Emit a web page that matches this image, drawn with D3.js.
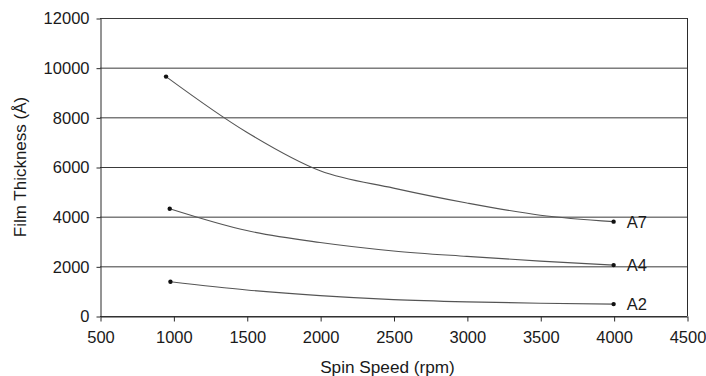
<!DOCTYPE html>
<html><head><meta charset="utf-8">
<script src="https://cdn.jsdelivr.net/npm/d3@7"></script>
<style>
html,body{margin:0;padding:0;background:#fff;}
svg{display:block;font-family:"Liberation Sans",Arial,sans-serif;}
</style></head>
<body><svg id="c" width="706" height="376"></svg>
<script>
// Data
const seriesNames = ["A7", "A4", "A2"];
const speedsA7 = [950, 1500, 2000, 2500, 3000, 3500, 4000];
const thickA7  = [9640, 7400, 5850, 5150, 4550, 4060, 3800];
const speedsA4 = [975, 1500, 2000, 2500, 3000, 3500, 4000];
const thickA4  = [4320, 3440, 2960, 2620, 2400, 2210, 2050];
const speedsA2 = [980, 1500, 2000, 2500, 3000, 3500, 4000];
const thickA2  = [1380, 1050, 820, 660, 570, 515, 480];
const xTicks = [500, 1000, 1500, 2000, 2500, 3000, 3500, 4000, 4500];
const yTicks = [0, 2000, 4000, 6000, 8000, 10000, 12000];
const xTitle = "Spin Speed (rpm)";
const yTitle = "Film Thickness (Å)";

const series = [
  {name: seriesNames[0], xs: speedsA7, ys: thickA7},
  {name: seriesNames[1], xs: speedsA4, ys: thickA4},
  {name: seriesNames[2], xs: speedsA2, ys: thickA2}
];

const svg = d3.select("#c");
const L = 100, R = 687, T = 18, B = 316;
const x = d3.scaleLinear().domain([500, 4500]).range([L, R]);
const y = d3.scaleLinear().domain([0, 12000]).range([B, T]);
const ink = "#2b2b2b";

// gridlines
svg.append("g").selectAll("line").data(yTicks).join("line")
  .attr("x1", L).attr("x2", R)
  .attr("y1", d => y(d) + 0.5).attr("y2", d => y(d) + 0.5)
  .attr("stroke", "#3a3a3a").attr("stroke-width", 1);

// right border
svg.append("line").attr("x1", R + 0.5).attr("x2", R + 0.5)
  .attr("y1", T).attr("y2", B).attr("stroke", ink);

// y axis
const ya = svg.append("g").attr("transform", `translate(${L + 0.5},0.5)`)
  .call(d3.axisLeft(y).tickValues(yTicks).tickSize(4).tickSizeOuter(0).tickPadding(7).tickFormat(d3.format("d")));
// x axis
const xa = svg.append("g").attr("transform", `translate(0.5,${B + 0.5})`)
  .call(d3.axisBottom(x).tickValues(xTicks).tickSize(5).tickSizeOuter(0).tickPadding(10).tickFormat(d3.format("d")));
[ya, xa].forEach(a => {
  a.selectAll("path,line").attr("stroke", ink);
  a.selectAll("text").attr("fill", "#1a1a1a").style("font-size", "16.5px");
});

// curves
const line = d3.line().x(d => x(d[0])).y(d => y(d[1])).curve(d3.curveMonotoneX);
series.forEach(s => {
  const pts = s.xs.map((v, i) => [v, s.ys[i]]);
  svg.append("path").attr("d", line(pts)).attr("fill", "none")
    .attr("stroke", "#555").attr("stroke-width", 1.1);
  const ends = [pts[0], pts[pts.length - 1]];
  svg.append("g").selectAll("circle").data(ends).join("circle")
    .attr("cx", d => x(d[0])).attr("cy", d => y(d[1])).attr("r", 2.2).attr("fill", "#111");
  const last = pts[pts.length - 1];
  svg.append("text").attr("x", x(last[0]) + 13).attr("y", y(last[1]))
    .attr("dy", "0.36em").attr("fill", "#1a1a1a").style("font-size", "16.5px").text(s.name);
});

// titles
svg.append("text").attr("x", (L + R) / 2 - 6).attr("y", 373).attr("text-anchor", "middle")
  .attr("fill", "#1a1a1a").style("font-size", "17.2px").text(xTitle);
svg.append("text").attr("transform", `translate(26,${(T + B) / 2}) rotate(-90)`)
  .attr("text-anchor", "middle").attr("fill", "#1a1a1a").style("font-size", "17px").text(yTitle);
</script></body></html>
